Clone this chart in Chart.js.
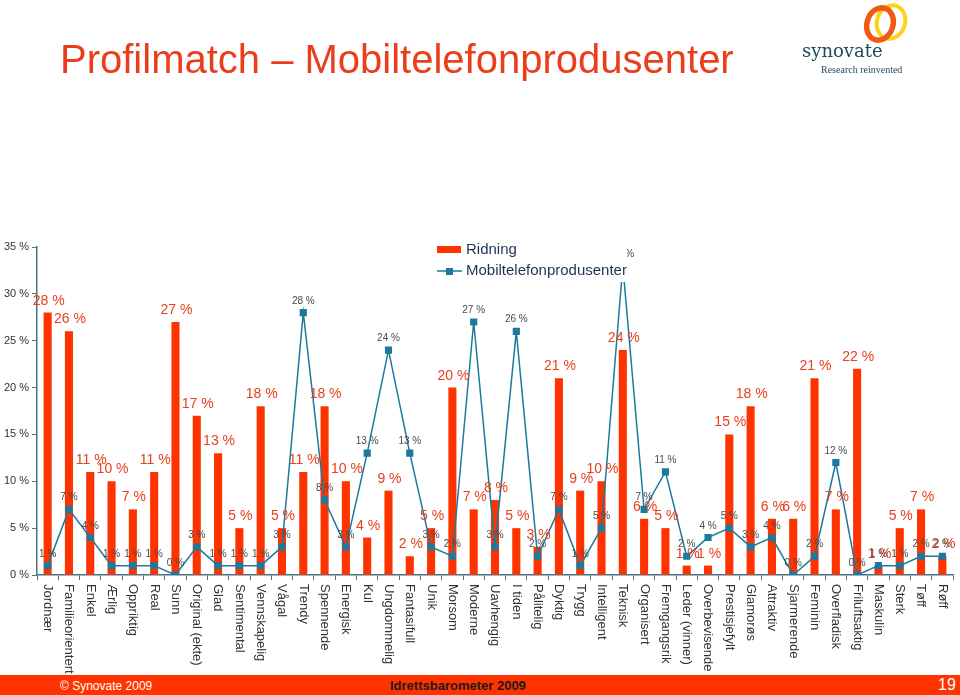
<!DOCTYPE html>
<html lang="no">
<head>
<meta charset="UTF-8">
<title>Profilmatch – Mobiltelefonprodusenter</title>
<script src="https://cdn.jsdelivr.net/npm/chart.js"></script>
<style>
    body { margin: 0; background: #fff; font-family: "Liberation Sans", Arial, sans-serif; }
    .page { position: relative; width: 960px; height: 695px; overflow: hidden; }
    #chart { position: absolute; left: 0; top: 0; }
    .title { position: absolute; left: 60px; top: 39px; font-size: 40px; line-height: 40px; color: #ec3d1a; white-space: nowrap; }
    .logo { position: absolute; left: 795px; top: 0; width: 165px; height: 90px; }
    .footer { position: absolute; left: 0; top: 675px; width: 960px; height: 20px; background: #ff3300; }
    .footer span { position: absolute; top: 3px; line-height: 16px; white-space: nowrap; }
</style>
</head>
<body>
<div class="page">
    <canvas id="chart" width="960" height="695"></canvas>
    <div class="title">Profilmatch – Mobiltelefonprodusenter</div>
    <svg class="logo" viewBox="0 0 165 90">
        <ellipse cx="96" cy="22" rx="14" ry="17" fill="none" stroke="#ffd21a" stroke-width="4" transform="rotate(18 96 22)"/>
        <ellipse cx="85" cy="24" rx="13" ry="16.5" fill="none" stroke="#f05a14" stroke-width="5.5" transform="rotate(18 85 24)"/>
        <text x="7" y="57" font-family="'DejaVu Serif', serif" font-size="18" fill="#1f4a5c">synovate</text>
        <text x="26" y="73" font-family="'Liberation Serif', serif" font-size="10" fill="#1f4a5c">Research reinvented</text>
    </svg>
    <div class="footer">
        <span style="left:60px; color:#fff; font-size:12px;">© Synovate 2009</span>
        <span style="left:390px; color:#1a1a1a; font-size:13px; font-weight:bold;">Idrettsbarometer 2009</span>
        <span style="left:938px; color:#fff; font-size:16px; top:2px;">19</span>
    </div>
</div>

<script>
    // kategorier (egenskaper)
    const categories = ['Jordnær', 'Familieorientert', 'Enkel', 'Ærlig', 'Oppriktig', 'Real', 'Sunn',
        'Original (ekte)', 'Glad', 'Sentimental', 'Vennskapelig', 'Vågal', 'Trendy', 'Spennende',
        'Energisk', 'Kul', 'Ungdommelig', 'Fantasifull', 'Unik', 'Morsom', 'Moderne', 'Uavhengig',
        'I tiden', 'Pålitelig', 'Dyktig', 'Trygg', 'Intelligent', 'Teknisk', 'Organisert',
        'Fremgangsrik', 'Leder (vinner)', 'Overbevisende', 'Prestisjefylt', 'Glamorøs', 'Attraktiv',
        'Sjarmerende', 'Feminin', 'Overfladisk', 'Friluftsaktig', 'Maskulin', 'Sterk', 'Tøff', 'Røff'];

    const ridning = [28, 26, 11, 10, 7, 11, 27, 17, 13, 5, 18, 5, 11, 18, 10, 4, 9, 2, 5, 20, 7, 8,
        5, 3, 21, 9, 10, 24, 6, 5, 1, 1, 15, 18, 6, 6, 21, 7, 22, 1, 5, 7, 2];

    const mobil = [1, 7, 4, 1, 1, 1, 0, 3, 1, 1, 1, 3, 28, 8, 3, 13, 24, 13, 3, 2, 27, 3,
        26, 2, 7, 1, 5, 33, 7, 11, 2, 4, 5, 3, 4, 0, 2, 12, 0, 1, 1, 2, 2];

    const seriesNames = ['Ridning', 'Mobiltelefonprodusenter'];

    const barColor = '#ff3300';
    const lineColor = '#1b7a9e';
    const axisColor = '#4a7282';
    const font = '"Liberation Sans", Arial, sans-serif';

    // verdietiketter, forklaring og roterte kategorinavn
    const labelPlugin = {
        id: 'labels',
        afterDatasetsDraw(chart) {
            const ctx = chart.ctx;
            ctx.save();
            ctx.textAlign = 'center';
            ctx.textBaseline = 'alphabetic';

            const bars = chart.getDatasetMeta(1).data;
            ctx.font = '14px ' + font;
            ctx.fillStyle = '#e8401c';
            bars.forEach((b, i) => ctx.fillText(ridning[i] + ' %', b.x + 1, b.y - 8));

            const pts = chart.getDatasetMeta(0).data;
            ctx.font = '10px ' + font;
            ctx.fillStyle = '#4a4a4a';
            pts.forEach((p, i) => ctx.fillText(mobil[i] + ' %', p.x, p.y - 9));

            // forklaring
            ctx.fillStyle = '#fff';
            ctx.fillRect(428, 238, 199, 44);
            ctx.fillStyle = barColor;
            ctx.fillRect(437, 246, 24, 7);
            ctx.strokeStyle = lineColor;
            ctx.lineWidth = 1.5;
            ctx.beginPath();
            ctx.moveTo(437, 271);
            ctx.lineTo(462, 271);
            ctx.stroke();
            ctx.fillStyle = lineColor;
            ctx.fillRect(446, 268, 7, 7);
            ctx.font = '15px ' + font;
            ctx.fillStyle = '#1c3352';
            ctx.textAlign = 'left';
            ctx.textBaseline = 'middle';
            ctx.fillText(seriesNames[0], 466, 250);
            ctx.fillText(seriesNames[1], 466, 271);

            // kategorinavn
            const xs = chart.scales.x;
            ctx.font = '13px ' + font;
            ctx.fillStyle = '#333';
            categories.forEach((c, i) => {
                ctx.save();
                ctx.translate(xs.getPixelForValue(i), 584);
                ctx.rotate(Math.PI / 2);
                ctx.fillText(c, 0, 0);
                ctx.restore();
            });
            ctx.restore();
        }
    };

    new Chart(document.getElementById('chart'), {
        type: 'bar',
        data: {
            labels: categories,
            datasets: [
                {
                    type: 'line',
                    label: seriesNames[1],
                    data: mobil,
                    borderColor: lineColor,
                    backgroundColor: lineColor,
                    borderWidth: 1.5,
                    pointStyle: 'rect',
                    pointRadius: 4,
                    tension: 0,
                    order: 1
                },
                {
                    label: seriesNames[0],
                    data: ridning,
                    backgroundColor: barColor,
                    barPercentage: 0.38,
                    categoryPercentage: 1,
                    order: 2
                }
            ]
        },
        options: {
            responsive: false,
            animation: false,
            layout: { padding: { top: 247, right: 7, left: 0, bottom: 0 } },
            plugins: { legend: { display: false }, tooltip: { enabled: false } },
            scales: {
                x: {
                    afterFit: s => { s.height = 120; },
                    ticks: { display: false },
                    grid: { offset: true, drawOnChartArea: false, tickLength: 5, color: axisColor },
                    border: { color: axisColor, width: 1.5 }
                },
                y: {
                    min: 0,
                    max: 35,
                    afterFit: s => { s.width = 37; },
                    ticks: {
                        stepSize: 5,
                        padding: 3,
                        color: '#333',
                        font: { family: font, size: 11 },
                        callback: v => v + ' %'
                    },
                    grid: { drawOnChartArea: false, tickLength: 5, color: axisColor },
                    border: { color: axisColor, width: 1.5 }
                }
            }
        },
        plugins: [labelPlugin]
    });
</script>
</body>
</html>
